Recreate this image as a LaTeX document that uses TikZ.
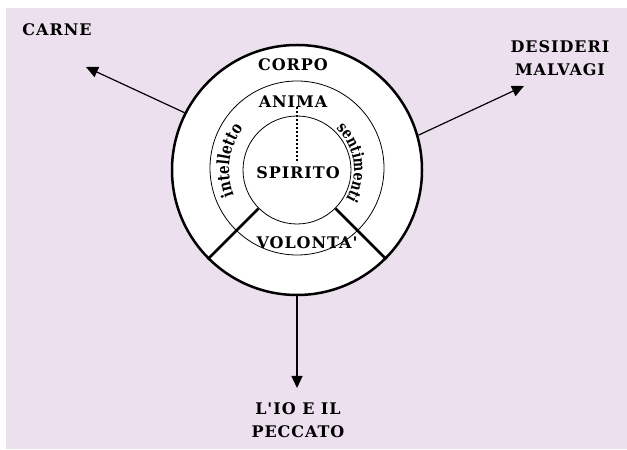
\documentclass[tikz,border=0pt]{standalone}
\usepackage{fontspec}
\setmainfont{DejaVu Serif}
\newfontfamily\labfont{DejaVu Serif}[LetterSpace=6]
\newfontfamily\curvfont{DejaVu Serif}[FakeStretch=0.8]
\usetikzlibrary{arrows.meta,decorations.text}
\definecolor{lav}{RGB}{236,223,238}
\begin{document}
\begin{tikzpicture}[x=1pt,y=1pt,
 lab/.style={font=\labfont\bfseries\fontsize{16}{23}\selectfont, inner sep=0pt, align=center},
 ring/.style={circle, draw, inner sep=0pt, fill=white},
 arr/.style={line width=1.2pt, -{Triangle[width=11pt,length=12pt]}},
 spoke/.style={line width=2.5pt},
 curved/.style={decorate, decoration={text along path, text align=center}}]
\useasboundingbox (0,0) rectangle (627,450);
\fill[white] (0,0) rectangle (627,450);
\fill[lav] (6,1) rectangle (627,442);
\coordinate (c) at (297,280);
\node[ring, minimum size=250pt, line width=2.5pt] (corpo) at (c) {};
\node[ring, minimum size=174pt, line width=0.8pt] (anima) at (297,282) {};
\node[ring, minimum size=108pt, line width=0.8pt] (spirito) at (c) {};
\draw[spoke] (spirito.225) -- (corpo.225);
\draw[spoke] (spirito.-45) -- (corpo.-45);
\coordinate (d1) at (297,343);
\coordinate (d2) at (297,287);
\draw[line width=2pt, dotted] (d1) -- (d2);
\node[lab] (tcorpo) at (293,385) {CORPO};
\node[lab] (tanima) at (293,348) {ANIMA};
\node[lab] (tspirito) at (298,277) {SPIRITO};
\node[lab] (tvolonta) at (307,207) {VOLONTA'};
\node[lab] (carne) at (57,420) {CARNE};
\node[lab] (desideri) at (560,392) {DESIDERI\\MALVAGI};
\node[lab] (io) at (298,30) {L'IO E IL\\PECCATO};
\path[curved, decoration={text={|\curvfont\bfseries\fontsize{17}{17}\selectfont|intelletto}}]
  ([shift={(c)}]222:68) arc[start angle=222, end angle=122, radius=68];
\path[curved, decoration={text={|\curvfont\bfseries\fontsize{16}{16}\selectfont|sentimenti}}]
  ([shift={(c)}]58:57) arc[start angle=58, end angle=-42, radius=57];
\coordinate (carnetip) at (86,383);
\coordinate (destip) at (524,364);
\coordinate (iotip) at (297,62);
\draw[arr] (corpo.153) -- (carnetip);
\draw[arr] (corpo.16) -- (destip);
\draw[arr] (corpo.south) -- (iotip);
\end{tikzpicture}
\end{document}
